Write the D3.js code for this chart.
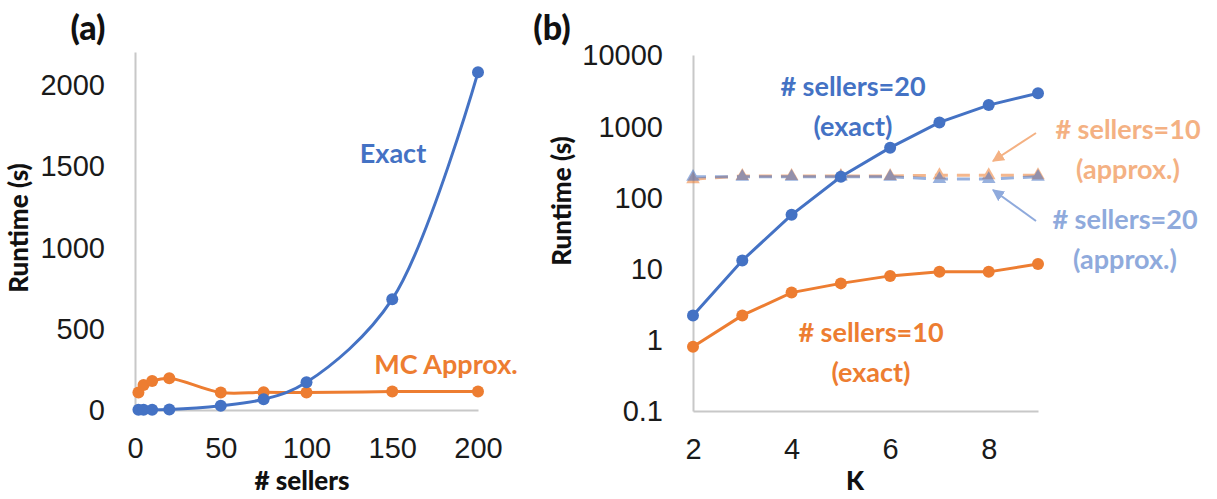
<!DOCTYPE html>
<html><head><meta charset="utf-8">
<script src="https://cdn.jsdelivr.net/npm/d3@7"></script>
<style>
body{margin:0;background:#fff;}
svg{display:block;font-family:Lato,"Open Sans",sans-serif;}
.tick text{font-size:29px;fill:#1a1a1a;font-weight:400;}
</style></head><body>
<svg id="c" width="1217" height="499"></svg>
<script>
// Panel (a) data
const sellers = [2, 5, 10, 20, 50, 75, 100, 150, 200];
const exactA = [1, 1, 2, 3, 26, 66, 170, 681, 2075];
const approxA = [107, 154, 178, 195, 107, 109, 107, 113, 113];
const ticksAY = [0, 500, 1000, 1500, 2000];
const ticksAX = [0, 50, 100, 150, 200];
// Panel (b) data
const kValues = [2, 3, 4, 5, 6, 7, 8, 9];
const exact20 = [2.2, 13, 57, 195, 500, 1130, 1980, 2900];
const exact10 = [0.8, 2.2, 4.6, 6.2, 7.9, 9.0, 9.0, 11.6];
const approx10 = [180, 200, 200, 200, 200, 205, 205, 205];
const approx20 = [195, 195, 195, 195, 195, 181, 181, 195];
const ticksBY = [0.1, 1, 10, 100, 1000, 10000];
const ticksBX = [2, 4, 6, 8];

const BLUE = "#4472C4", ORANGE = "#ED7D31", LBLUE = "#8FAADC", LORANGE = "#F4B183", AXIS = "#C8C8C8";
const svg = d3.select("#c");

// ---------- Panel (a)
const xa = d3.scaleLinear().domain([0, 200]).range([135, 478]);
const ya = d3.scaleLinear().domain([0, 2200]).range([410, 52]);

function styleAxis(g){
  g.select(".domain").attr("stroke", AXIS).attr("stroke-width", 2);
  g.selectAll(".tick line").remove();
}
svg.append("g").attr("transform", `translate(${xa(0)},0)`)
  .call(d3.axisLeft(ya).tickValues(ticksAY).tickSize(0).tickPadding(30).tickSizeOuter(0).tickFormat(d3.format("d")))
  .call(styleAxis).selectAll("text").attr("dy","0.34em");
svg.append("g").attr("transform", `translate(0,${ya(0)})`)
  .call(d3.axisBottom(xa).tickValues(ticksAX).tickSize(0).tickPadding(27).tickSizeOuter(0).tickFormat(d3.format("d")))
  .call(styleAxis);

const lineA = (vals) => d3.line().x((d,i)=>xa(sellers[i])).y(d=>ya(d)).curve(d3.curveCatmullRom.alpha(0.5))(vals);
function seriesA(vals, color){
  svg.append("path").attr("d", lineA(vals)).attr("fill","none").attr("stroke",color).attr("stroke-width",3);
  svg.append("g").selectAll("circle").data(vals).join("circle")
    .attr("cx",(d,i)=>xa(sellers[i])).attr("cy",d=>ya(d)).attr("r",6).attr("fill",color);
}
seriesA(approxA, ORANGE);
seriesA(exactA, BLUE);

svg.append("text").attr("x",88).attr("y",40).attr("text-anchor","middle")
  .attr("font-size",34).attr("font-weight",900).attr("fill","#111").text("(a)");
svg.append("text").attr("transform","translate(28,228) rotate(-90)").attr("text-anchor","middle")
  .attr("font-size",26).attr("font-weight",900).attr("fill","#111").text("Runtime (s)");
svg.append("text").attr("x",302).attr("y",490).attr("text-anchor","middle")
  .attr("font-size",26).attr("font-weight",900).attr("fill","#111").text("# sellers");
svg.append("text").attr("x",393).attr("y",152).attr("text-anchor","middle").attr("dominant-baseline","central")
  .attr("font-size",27).attr("font-weight",700).attr("fill",BLUE).text("Exact");
svg.append("text").attr("x",446).attr("y",363).attr("text-anchor","middle").attr("dominant-baseline","central")
  .attr("font-size",27).attr("font-weight",700).attr("fill",ORANGE).text("MC Approx.");

// ---------- Panel (b)
const xb = d3.scaleLinear().domain([2, 9]).range([693, 1038]);
const yb = d3.scaleLog().domain([0.1, 10000]).range([411, 55]);

svg.append("g").attr("transform", `translate(${xb(2)},0)`)
  .call(d3.axisLeft(yb).tickValues(ticksBY).tickSize(0).tickPadding(30).tickSizeOuter(0).tickFormat(d=>String(d)))
  .call(styleAxis).selectAll("text").attr("dy","0.34em");
svg.append("g").attr("transform", `translate(0,${yb(0.1)})`)
  .call(d3.axisBottom(xb).tickValues(ticksBX).tickSize(0).tickPadding(27).tickSizeOuter(0).tickFormat(d3.format("d")))
  .call(styleAxis);

const lineB = (vals) => d3.line().x((d,i)=>xb(kValues[i])).y(d=>yb(d))(vals);
function dashed(vals, color){
  const g = svg.append("g").attr("opacity",0.55);
  g.append("path").attr("d", lineB(vals)).attr("fill","none").attr("stroke",color)
    .attr("stroke-width",3).attr("stroke-dasharray","13,9");
  const tri = d3.symbol().type(d3.symbolTriangle).size(80);
  g.selectAll("path.m").data(vals).join("path").attr("class","m")
    .attr("transform",(d,i)=>`translate(${xb(kValues[i])},${yb(d)})`).attr("d",tri()).attr("fill",color);
}
dashed(approx10, ORANGE);
dashed(approx20, BLUE);

function seriesB(vals, color){
  svg.append("path").attr("d", lineB(vals)).attr("fill","none").attr("stroke",color).attr("stroke-width",3);
  svg.append("g").selectAll("circle").data(vals).join("circle")
    .attr("cx",(d,i)=>xb(kValues[i])).attr("cy",d=>yb(d)).attr("r",6).attr("fill",color);
}
seriesB(exact10, ORANGE);
seriesB(exact20, BLUE);

svg.append("text").attr("x",552).attr("y",40).attr("text-anchor","middle")
  .attr("font-size",34).attr("font-weight",900).attr("fill","#111").text("(b)");
svg.append("text").attr("transform","translate(571,201) rotate(-90)").attr("text-anchor","middle")
  .attr("font-size",26).attr("font-weight",900).attr("fill","#111").text("Runtime (s)");
svg.append("text").attr("x",855).attr("y",490).attr("text-anchor","middle")
  .attr("font-size",26).attr("font-weight",900).attr("fill","#111").text("K");

function label(x, y, lines, color){
  lines.forEach((t,i)=>{
    svg.append("text").attr("x",x).attr("y",y + i*40).attr("text-anchor","middle").attr("dominant-baseline","central")
      .attr("font-size",27).attr("font-weight",700).attr("fill",color).text(t);
  });
}
label(853, 85, ["# sellers=20", "(exact)"], BLUE);
label(1128, 128, ["# sellers=10", "(approx.)"], LORANGE);
label(1125, 218, ["# sellers=20", "(approx.)"], LBLUE);
label(871, 331, ["# sellers=10", "(exact)"], ORANGE);

const defs = svg.append("defs");
[["ao",LORANGE],["ab",LBLUE]].forEach(([id,c])=>{
  defs.append("marker").attr("id",id).attr("viewBox","0 0 10 10").attr("refX",9).attr("refY",5)
    .attr("markerWidth",6).attr("markerHeight",6).attr("orient","auto")
    .append("path").attr("d","M0,0L10,5L0,10z").attr("fill",c);
});
svg.append("line").attr("x1",1036).attr("y1",133).attr("x2",993).attr("y2",161)
  .attr("stroke",LORANGE).attr("stroke-width",2).attr("marker-end","url(#ao)");
svg.append("line").attr("x1",1036).attr("y1",221).attr("x2",993).attr("y2",190)
  .attr("stroke",LBLUE).attr("stroke-width",2).attr("marker-end","url(#ab)");
</script></body></html>
